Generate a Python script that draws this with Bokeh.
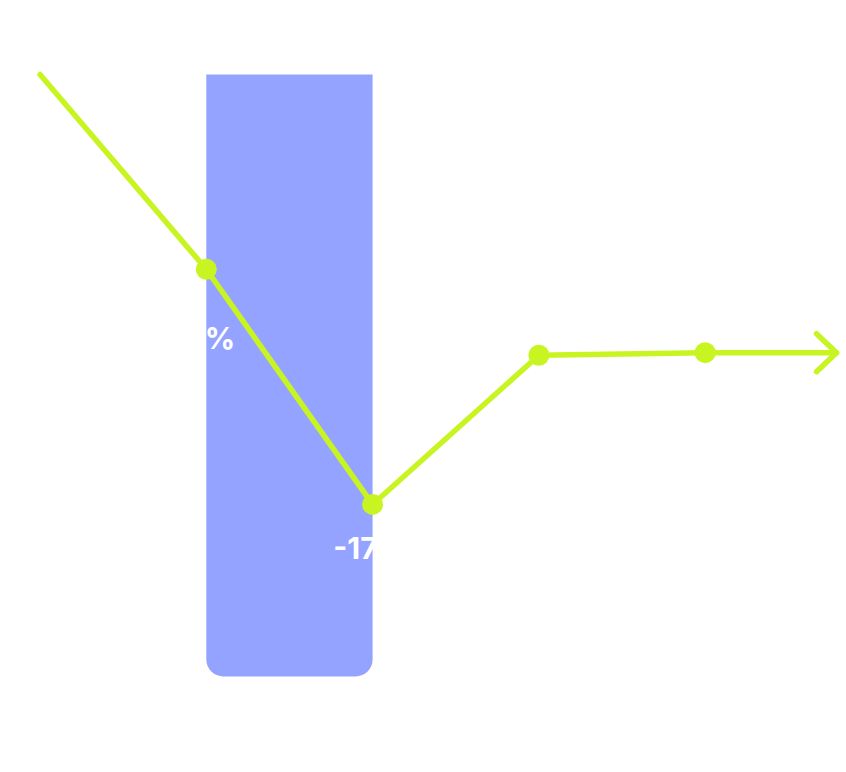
from bokeh.plotting import figure
from bokeh.models import Range1d, ColumnDataSource
from bokeh.core.properties import value
from bokeh.embed import file_html
from bokeh.resources import INLINE

# ---- data ----
steps = [0, 1, 2, 3, 4]
values = [0.0, -7.7, -17.0, -11.1, -11.0]
label_steps = [1, 2]
label_values = [-7.7, -17.0]
label_texts = ["-8%", "-17%"]
bar_start = 1
bar_end = 2
bar_top = 0.0
bar_bottom = -23.8

# ---- layout (pixels) ----
W, H = 846, 772
px_per_x = 166.3
x0_px = 39.5
px_per_y = 25.29
y0_px = 74.0

x_start = -x0_px / px_per_x
x_end = x_start + W / px_per_x
y_end = y0_px / px_per_y
y_start = y_end - H / px_per_y

LIME = "#C8F521"
BLUE = "#94A3FF"

p = figure(width=W, height=H, x_range=Range1d(x_start, x_end), y_range=Range1d(y_start, y_end),
           output_backend="svg", toolbar_location=None, min_border=0,
           x_axis_location=None, y_axis_location=None)
p.grid.visible = False
p.outline_line_color = None
p.background_fill_color = "white"
p.border_fill_color = "white"

# bar
p.vbar(x=[(bar_start + bar_end) / 2], width=[bar_end - bar_start], top=[bar_top], bottom=[bar_bottom],
       fill_color=BLUE, line_color=None, border_radius=(0, 0, 17, 17))

# labels (white)
lsrc = ColumnDataSource(dict(x=label_steps, y=label_values, t=label_texts,
                             xoff=[-3, -2], off=[69, 44]))
p.text(x="x", y="y", text="t", source=lsrc, x_offset="xoff", y_offset="off", text_color="white",
       text_font=value("Inter"), text_font_style="bold", text_font_size="30px",
       text_align="center", text_baseline="middle")

# line
p.line(steps, values, line_color=LIME, line_width=5.5, line_cap="round", line_join="round")

# tail + arrow head
tip_x = x_end - 10 / px_per_x
dx = 20 / px_per_x
dy = 19 / px_per_y
last = values[-1]
p.line([steps[-1], tip_x], [last, last], line_color=LIME, line_width=5.5, line_cap="round")
p.line([tip_x - dx, tip_x, tip_x - dx], [last + dy, last, last - dy], line_color=LIME,
       line_width=5.5, line_cap="round", line_join="round")

# markers (skip first point)
p.scatter(steps[1:], values[1:], size=21, fill_color=LIME, line_color=None)

open("out.html", "w").write(file_html(p, INLINE))
